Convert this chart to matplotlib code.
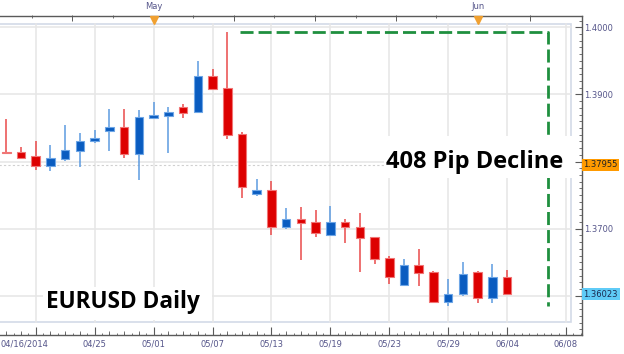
import numpy as np
import matplotlib
matplotlib.use("Agg")
import matplotlib.pyplot as plt
import matplotlib.transforms as mtransforms
from matplotlib.patches import Rectangle
from matplotlib.ticker import FixedLocator, MultipleLocator

# ---------------- data ----------------
opens = [1.38147, 1.38138, 1.38087, 1.37929, 1.38043, 1.38157, 1.38302, 1.38451, 1.38510, 1.38113,
         1.38644, 1.38683, 1.38808, 1.38734, 1.39275, 1.39096, 1.38406, 1.37521, 1.37572, 1.37030,
         1.37149, 1.37095, 1.36902, 1.37095, 1.37025, 1.36872, 1.36568, 1.36166, 1.36464, 1.36355,
         1.35908, 1.36023, 1.36360, 1.35963, 1.36285]
highs = [1.38630, 1.38212, 1.38302, 1.38247, 1.38540, 1.38425, 1.38470, 1.38783, 1.38783, 1.38764,
         1.38887, 1.38808, 1.38853, 1.39498, 1.39379, 1.39926, 1.38436, 1.37740, 1.37706, 1.37304,
         1.37319, 1.37274, 1.37338, 1.37137, 1.37229, 1.36880, 1.36589, 1.36544, 1.36693, 1.36374,
         1.36251, 1.36499, 1.36370, 1.36472, 1.36384]
lows = [1.38120, 1.38034, 1.37874, 1.37859, 1.38013, 1.37923, 1.38272, 1.38157, 1.38057, 1.37725,
        1.38630, 1.38128, 1.38653, 1.38730, 1.39080, 1.38336, 1.37453, 1.37491, 1.36906, 1.36995,
        1.36534, 1.36872, 1.36899, 1.36791, 1.36359, 1.36470, 1.36181, 1.36146, 1.36142, 1.35900,
        1.35850, 1.35997, 1.35898, 1.35898, 1.36015]
closes = [1.38128, 1.38057, 1.37929, 1.38053, 1.38168, 1.38311, 1.38347, 1.38515, 1.38113, 1.38659,
          1.38694, 1.38734, 1.38728, 1.39275, 1.39085, 1.38396, 1.37617, 1.37572, 1.37030, 1.37149,
          1.37085, 1.36940, 1.37095, 1.37018, 1.36857, 1.36553, 1.36285, 1.36464, 1.36344, 1.35904,
          1.36034, 1.36320, 1.35968, 1.36285, 1.36023]
x_tick_labels = ["", "04/25", "05/01", "05/07", "05/13", "05/19", "05/23", "05/29", "06/04", "06/08"]
first_date_label = "04/16/2014"
month_labels = ["May", "Jun"]
month_index = [10, 32]
y_ticks = [1.36, 1.37, 1.38, 1.39, 1.40]
marker_price = 1.37955
title_text = "EURUSD Daily"

# ---------------- layout ----------------
W, H = 624, 354
fig = plt.figure(figsize=(W / 100, H / 100), dpi=100)
fig.patch.set_facecolor("white")
L, R, T, B = -12.0, 581.7, 15.5, 334.5
ax = fig.add_axes([L / W, 1 - B / H, (R - L) / W, (B - T) / H])
ax.set_facecolor("white")

def fx(px):
    return (px - L) / (R - L)

def fy(py):
    return (B - py) / (B - T)

LABEL_COLOR = "#55558A"
AXIS_COLOR = "#5a5a5a"
GRID = "#E6E6E6"

n = len(opens)
idx = np.arange(n)
o = np.array(opens); h = np.array(highs); lo = np.array(lows); c = np.array(closes)
up = c >= o

# panel border
panel = Rectangle((0, fy(322)), fx(570.7), fy(24) - fy(322), transform=ax.transAxes,
                  fill=False, ec="#D3DAE8", lw=1.2, zorder=0.5)
ax.add_patch(panel)

# grid
x_major = np.arange(2, 2 + 4 * len(x_tick_labels), 4)
for xv in x_major:
    ax.axvline(xv, ymin=fy(322), ymax=fy(24), color=GRID, lw=1.1, zorder=1)
for yv in y_ticks:
    ax.axhline(yv, xmin=0, xmax=fx(570.7), color=GRID, lw=1.1, zorder=1)

# marker price dotted line
ax.axhline(marker_price, xmin=0, xmax=fx(570.7), color="#D0D0D0", lw=0.8,
           ls=(0, (2, 2)), zorder=1.2)

# candles
body_col = np.where(up, "#0A5CC0", "#DD0000")
edge_col = np.where(up, "#6EA6E6", "#F07575")
wick_col = np.where(up, "#5C9BE0", "#EA4A4A")
ax.vlines(idx, lo, h, colors=wick_col, lw=1.1, zorder=3)
ax.bar(idx, np.abs(c - o), bottom=np.minimum(o, c), width=0.58, color=body_col,
       edgecolor=edge_col, linewidth=0.8, zorder=4)

# decline annotation lines
i_hi = int(np.argmax(h))
d_high = h.max()
d_low = lo.min()
x_start = i_hi + 0.87
x_end = 36.8
ax.plot([x_start, x_end, x_end], [d_high, d_high, d_low], color="#1F8F3F", lw=2.0,
        ls=(0, (4.7, 1.8)), zorder=5, solid_capstyle="butt", dash_capstyle="butt")
pips = int(round((d_high - d_low) * 10000))

# text boxes
ax.add_patch(Rectangle((384 / W, 1 - 178 / H), (575 - 384) / W, (178 - 136) / H,
                       transform=fig.transFigure, fc="white", ec="none", zorder=6))
ax.add_patch(Rectangle((43 / W, 1 - 320 / H), (212 - 43) / W, (320 - 287) / H,
                       transform=fig.transFigure, fc="white", ec="none", zorder=6))
ax.text(386 / W, 1 - 168.3 / H, f"{pips} Pip Decline", transform=fig.transFigure,
        fontsize=17, fontweight="bold", family="Open Sans", color="black",
        ha="left", va="baseline", zorder=7)
ax.text(46 / W, 1 - 308.3 / H, title_text, transform=fig.transFigure,
        fontsize=16.3, fontweight="bold", family="Open Sans", color="black",
        ha="left", va="baseline", zorder=7)

# limits
ax.set_xlim((L - 6.3) / 14.73, (R - 6.3) / 14.73)
ax.set_ylim(1.354238, 1.401758)

# spines
for s in ["top", "right", "bottom"]:
    ax.spines[s].set_color(AXIS_COLOR)
    ax.spines[s].set_linewidth(1.0)
ax.spines["left"].set_visible(False)

# y axis on right
ax.yaxis.tick_right()
tags = [marker_price, c[-1]]
ylabels = ["" if any(abs(t - yv) < 0.002 for t in tags) else f"{yv:.4f}" for yv in y_ticks]
ax.set_yticks(y_ticks, labels=ylabels)
ax.yaxis.set_minor_locator(MultipleLocator(0.001))
ax.tick_params(axis="y", which="major", direction="in", length=5, width=0.8,
               color=AXIS_COLOR, labelsize=6, labelcolor=LABEL_COLOR, pad=1.5,
               left=False, right=True)
ax.tick_params(axis="y", which="minor", direction="in", length=2.5, width=0.6,
               color=AXIS_COLOR, left=False, right=True)

# x axis
ax.set_xticks(x_major, labels=x_tick_labels)
ax.xaxis.set_minor_locator(MultipleLocator(0.5))
ax.tick_params(axis="x", which="major", direction="in", length=5.5, width=0.8,
               color=AXIS_COLOR, labelsize=6, labelcolor=LABEL_COLOR, pad=3.5,
               top=False)
ax.tick_params(axis="x", which="minor", direction="in", length=1.8, width=0.6,
               color=AXIS_COLOR, top=False)
ax.annotate(first_date_label, xy=(0.5 / W, 0), xycoords=mtransforms.blended_transform_factory(
            fig.transFigure, ax.transAxes),
            xytext=(0, -3.5), textcoords="offset points", ha="left", va="top",
            fontsize=6, color=LABEL_COLOR, annotation_clip=False)

sec_b = ax.secondary_xaxis("bottom")
sec_b.set_xticks(idx)
sec_b.tick_params(axis="x", direction="in", length=3, width=0.6, color=AXIS_COLOR,
                  labelbottom=False)
for s in sec_b.spines.values():
    s.set_visible(False)

# top axis ticks
top_long = [4.46, 15.46, 20.96, 26.46, 35.55]
top_short = [1.74, 7.24, 12.7, 18.17, 23.74, 29.2]
sec_t = ax.secondary_xaxis("top")
sec_t.xaxis.set_major_locator(FixedLocator(top_long))
sec_t.xaxis.set_minor_locator(FixedLocator(top_short))
sec_t.tick_params(axis="x", which="major", direction="in", length=4, width=0.7,
                  color=AXIS_COLOR, labeltop=False)
sec_t.tick_params(axis="x", which="minor", direction="in", length=2.5, width=0.6,
                  color=AXIS_COLOR)
for s in sec_t.spines.values():
    s.set_visible(False)

trans_top = mtransforms.blended_transform_factory(ax.transData, ax.transAxes)
for mi, ml in zip(month_index, month_labels):
    ax.plot([mi], [fy(19.5)], marker="v", ms=5.5, color="#F0A030", mec="#F0A030",
            transform=trans_top, clip_on=False, zorder=8)
    ax.annotate(ml, xy=(mi, 1.0), xycoords=trans_top, xytext=(0, 3),
                textcoords="offset points", ha="center", va="bottom",
                fontsize=6, color=LABEL_COLOR, annotation_clip=False)

# price tags on right
trans_r = mtransforms.blended_transform_factory(ax.transAxes, ax.transData)
ax.text(fx(583.5), marker_price, f"{marker_price:.5f}", transform=trans_r,
        ha="left", va="center", fontsize=6, color="#222222",
        bbox=dict(boxstyle="square,pad=0.18", fc="#FF9A00", ec="none"), clip_on=False)
ax.text(fx(583.5), c[-1], f"{c[-1]:.5f}", transform=trans_r,
        ha="left", va="center", fontsize=6, color="#1A2A50",
        bbox=dict(boxstyle="square,pad=0.18", fc="#5FCBF7", ec="none"), clip_on=False)

fig.savefig("out.png", dpi=100, facecolor="white")
